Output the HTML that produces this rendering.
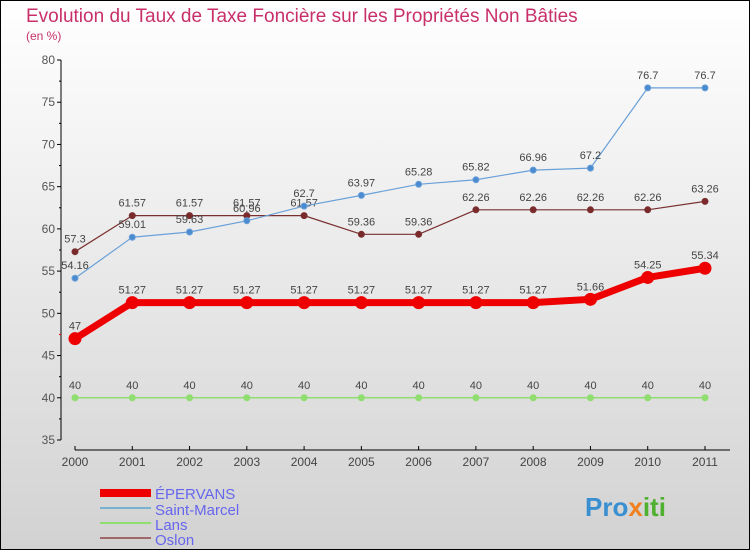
<!DOCTYPE html>
<html><head><meta charset="utf-8"><style>
body{margin:0;}
svg{display:block;font-family:"Liberation Sans",sans-serif;}
</style></head><body>
<svg id="c" width="750" height="550" viewBox="0 0 750 550" xmlns="http://www.w3.org/2000/svg">
<defs><linearGradient id="bg" x1="0" y1="0" x2="0" y2="1"><stop offset="0" stop-color="#ffffff"/><stop offset="1" stop-color="#d2d2d2"/></linearGradient></defs>
<rect x="0.5" y="0.5" width="749" height="549" fill="url(#bg)" stroke="#000"/>
<text x="26" y="22" font-size="19" fill="#c8306a">Evolution du Taux de Taxe Foncière sur les Propriétés Non Bâties</text>
<text x="26" y="40" font-size="12" fill="#c8306a">(en %)</text>
<g id="axes"></g><g id="series"></g>
<g>
<rect x="100" y="489" width="51" height="8" fill="#e00"/>
<text x="155" y="499" font-size="15" fill="#6666ee">ÉPERVANS</text>
<rect x="100" y="507" width="51" height="2" fill="#7ab0d0"/>
<text x="155" y="515" font-size="15" fill="#6666ee">Saint-Marcel</text>
<rect x="100" y="522" width="51" height="2" fill="#90dd70"/>
<text x="155" y="530" font-size="15" fill="#6666ee">Lans</text>
<rect x="100" y="537" width="51" height="2" fill="#a06868"/>
<text x="155" y="545" font-size="15" fill="#6666ee">Oslon</text>
</g>
<text x="585" y="516" font-size="26" font-weight="bold" fill="#3a8fd0">Pro<tspan fill="#f08020">x</tspan><tspan fill="#50b030">iti</tspan></text>
</svg>
<script>
const years=["2000","2001","2002","2003","2004","2005","2006","2007","2008","2009","2010","2011"];
const yTicks=[35,40,45,50,55,60,65,70,75,80];
const epervans=[47,51.27,51.27,51.27,51.27,51.27,51.27,51.27,51.27,51.66,54.25,55.34];
const saintMarcel=[54.16,59.01,59.63,60.96,62.7,63.97,65.28,65.82,66.96,67.2,76.7,76.7];
const lans=[40,40,40,40,40,40,40,40,40,40,40,40];
const oslon=[57.3,61.57,61.57,61.57,61.57,59.36,59.36,62.26,62.26,62.26,62.26,63.26];
const NS="http://www.w3.org/2000/svg";
const xs=i=>75+i*(705-75)/11;
const ys=v=>60+(80-v)*(380/45);
function mk(t,a,p){const e=document.createElementNS(NS,t);for(const k in a)e.setAttribute(k,a[k]);p.appendChild(e);return e;}
const ax=document.getElementById('axes');
const yl=mk('line',{x1:61,y1:60,x2:61,y2:440,stroke:'#000'},ax);


const xl=mk('line',{x1:75,y1:450,x2:730,y2:450,stroke:'#000'},ax);


yTicks.forEach(v=>{
 mk('line',{x1:57,x2:61,y1:ys(v),y2:ys(v),stroke:'#000'},ax);
 const t=mk('text',{x:55,y:ys(v)+4,'text-anchor':'end','font-size':12,fill:'#555'},ax);t.textContent=v;
 
 
 if(v<80){const m=mk('line',{x1:59,x2:61,y1:ys(v+2.5),y2:ys(v+2.5),stroke:v+2.5===47.5?'#e00':'#000'},ax);}
});
years.forEach((y,i)=>{
 mk('line',{x1:xs(i),x2:xs(i),y1:446,y2:450,stroke:'#000'},ax);
 const t=mk('text',{x:xs(i),y:466,'text-anchor':'middle','font-size':12,fill:'#444'},ax);t.textContent=y;
 
 
});
const sg=document.getElementById('series');
function series(data,name,color,w,r,dot,lblColor){
 const g=mk('g',{},sg);
 
 
 const pl=mk('polyline',{points:data.map((v,i)=>xs(i)+','+ys(v)).join(' '),fill:'none',stroke:color,'stroke-width':w,'stroke-linejoin':'round'},g);
 
 
 data.forEach((v,i)=>{
  const c=mk('circle',{cx:xs(i),cy:ys(v),r:r,fill:dot,stroke:color,'stroke-width':1},g);
  
  
  const t=mk('text',{x:xs(i),y:ys(v)-9,'text-anchor':'middle','font-size':11,fill:'#444'},g);t.textContent=v;
  
  
 });
}
series(lans,'lans','#90dd70',1.5,3,'#90dd70');
series(oslon,'oslon','#7a3030',1.2,3,'#7a2a2a');
series(saintMarcel,'saint-marcel','#6aa0d8',1.2,3,'#4a8ad0');
series(epervans,'epervans','#ee0000',7,6,'#ee0000');
</script>
</body></html>
